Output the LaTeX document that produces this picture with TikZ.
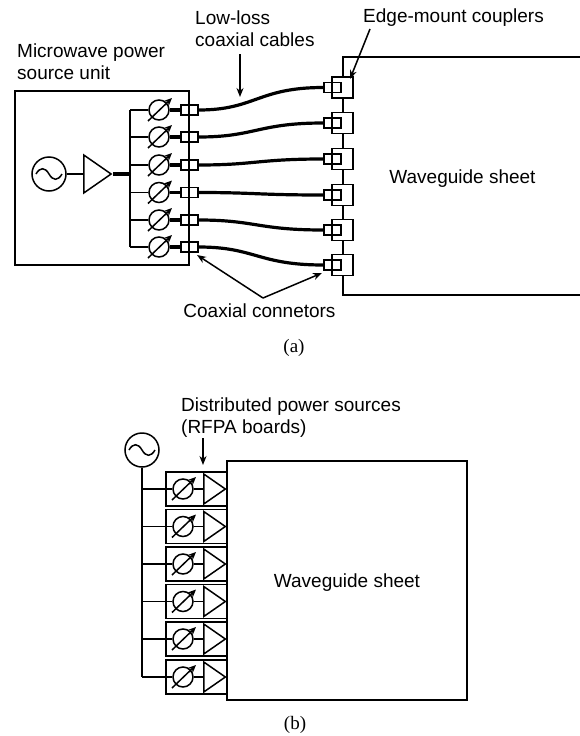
\documentclass[tikz,border=0pt]{standalone}
\usepackage{fontspec}
\setmainfont{Liberation Sans}
\newfontfamily\capfont{Liberation Serif}
\usetikzlibrary{shapes.geometric,arrows.meta}
\tikzset{
  wire/.style={line width=1.5pt},
  cable/.style={line width=3.2pt},
  pointer/.style={line width=1.5pt,-{Stealth[length=9pt,width=7pt]}},
  tune/.style={line width=1.5pt,-{Stealth[length=8pt,width=7pt]}},
  label/.style={font=\fontsize{19}{22}\selectfont,inner sep=0pt,align=left},
  subcap/.style={font=\capfont\fontsize{19}{22}\selectfont,inner sep=0pt},
  source/.style={circle,draw,line width=1.5pt,minimum size=34pt,inner sep=0pt,
    path picture={\draw[line width=1.5pt] ([shift={(-13,0)}]path picture bounding box.center)
      .. controls +(4,-7) and +(-4,-7) .. (path picture bounding box.center)
      .. controls +(4,7) and +(-4,7) .. ([shift={(13,0)}]path picture bounding box.center);}},
  shifter/.style={circle,draw,line width=1.5pt,minimum size=20pt,inner sep=0pt},
  amp/.style={isosceles triangle,isosceles triangle stretches,draw,line width=1.5pt,
    minimum width=#1,minimum height=#1*0.72,inner sep=0pt,anchor=lower side},
  conn/.style={rectangle,draw,line width=1.5pt,minimum width=17pt,minimum height=10pt,inner sep=0pt},
  coupler/.style={rectangle,draw,fill=white,line width=1.5pt,minimum width=21pt,minimum height=21pt,inner sep=0pt},
  board/.style={rectangle,draw,line width=1.5pt,minimum width=61pt,minimum height=34pt,inner sep=0pt},
}
\begin{document}
\begin{tikzpicture}[x=1pt,y=-1pt]
  \useasboundingbox (0,0) rectangle (580,736);
  % (a)
  \node[rectangle,draw,line width=1.5pt,minimum width=174pt,minimum height=174pt,inner sep=0pt] (unit) at (102,178) {};
  \coordinate (sheetA1) at (580,57);
  \coordinate (sheetA2) at (343,57);
  \coordinate (sheetA3) at (343,295);
  \coordinate (sheetA4) at (580,295);
  \draw[wire] (sheetA1) -- (sheetA2) -- (sheetA3) -- (sheetA4);
  \node[source] (src) at (49,174) {};
  \node[amp=38pt] (drv) at (83,174) {};
  \coordinate (busT) at (130,110);
  \coordinate (busB) at (130,247);
  \coordinate (busM) at (130,174);
  \draw[wire] (src) -- (drv.lower side);
  \draw[cable] (drv.apex) -- (busM);
  \draw[wire] (busT) -- (busB);
  \foreach \i/\ya/\yb in {1/110/87.5,2/137/123,3/165/159,4/192.5/195,5/220/230,6/247/265}{
    \node[shifter] (ps\i) at (159,\ya) {};
    \node[conn] (con\i) at (189.5,\ya) {};
    \node[coupler] (cpl\i) at (342.5,\yb) {};
    \node[conn] (plg\i) at (332.5,\yb) {};
    \coordinate (bus\i) at (130,\ya);
    \draw[wire] (bus\i) -- (ps\i);
    \draw[cable] (ps\i) -- (con\i);
    \draw[tune] ([shift={(-11,11)}]ps\i.center) -- ([shift={(13,-12)}]ps\i.center);
    \draw[cable] (con\i.east) .. controls (255,\ya) and (258,\yb) .. (plg\i.west);
  }
  \node[label,anchor=west] (lbunit) at (17,62) {Microwave power\\source unit};
  \node[label,anchor=west] (lbcable) at (195,29) {Low-loss\\coaxial cables};
  \node[label,anchor=west] (lbedge) at (363,18) {Edge-mount couplers};
  \node[label] (lbsheetA) at (462.5,179) {Waveguide sheet};
  \node[label] (lbconn) at (259.5,311) {Coaxial connetors};
  \node[subcap] (capa) at (294,348) {(a)};
  \coordinate (apex) at (263,298);
  \coordinate (cabT) at (240,54);
  \coordinate (cabH) at (240,97);
  \coordinate (edgeT) at (370,29);
  \coordinate (edgeH) at (350,79);
  \coordinate (conH) at (197,255);
  \coordinate (plgH) at (322,273);
  \draw[pointer] (cabT) -- (cabH);
  \draw[pointer] (edgeT) -- (edgeH);
  \draw[pointer] (apex) -- (conH);
  \draw[pointer] (apex) -- (plgH);
  % (b)
  \node[rectangle,draw,line width=1.5pt,minimum width=240pt,minimum height=239pt,inner sep=0pt] (sheetB) at (347,580.5) {};
  \node[label] (lbsheetB) at (347,583) {Waveguide sheet};
  \node[source] (osc) at (142,450) {};
  \coordinate (trunk) at (142,677);
  \draw[wire] (osc) -- (trunk);
  \foreach \i/\y in {1/489,2/526.5,3/564,4/601.5,5/639,6/677}{
    \node[board] (brd\i) at (196.5,\y) {};
    \node[shifter] (phs\i) at (183,\y) {};
    \node[amp=30pt] (pa\i) at (203,\y) {};
    \coordinate (tap\i) at (142,\y);
    \draw[wire] (tap\i) -- (phs\i);
    \draw[wire] (phs\i) -- (pa\i.lower side);
    \draw[tune] ([shift={(-11,11)}]phs\i.center) -- ([shift={(13,-12)}]phs\i.center);
  }
  \node[label,anchor=west] (lbdist) at (181,418) {Distributed power sources\\(RFPA boards)};
  \node[subcap] (capb) at (295,725) {(b)};
  \coordinate (brdT) at (203,438);
  \coordinate (brdH) at (203,465);
  \draw[pointer] (brdT) -- (brdH);
\end{tikzpicture}
\end{document}
